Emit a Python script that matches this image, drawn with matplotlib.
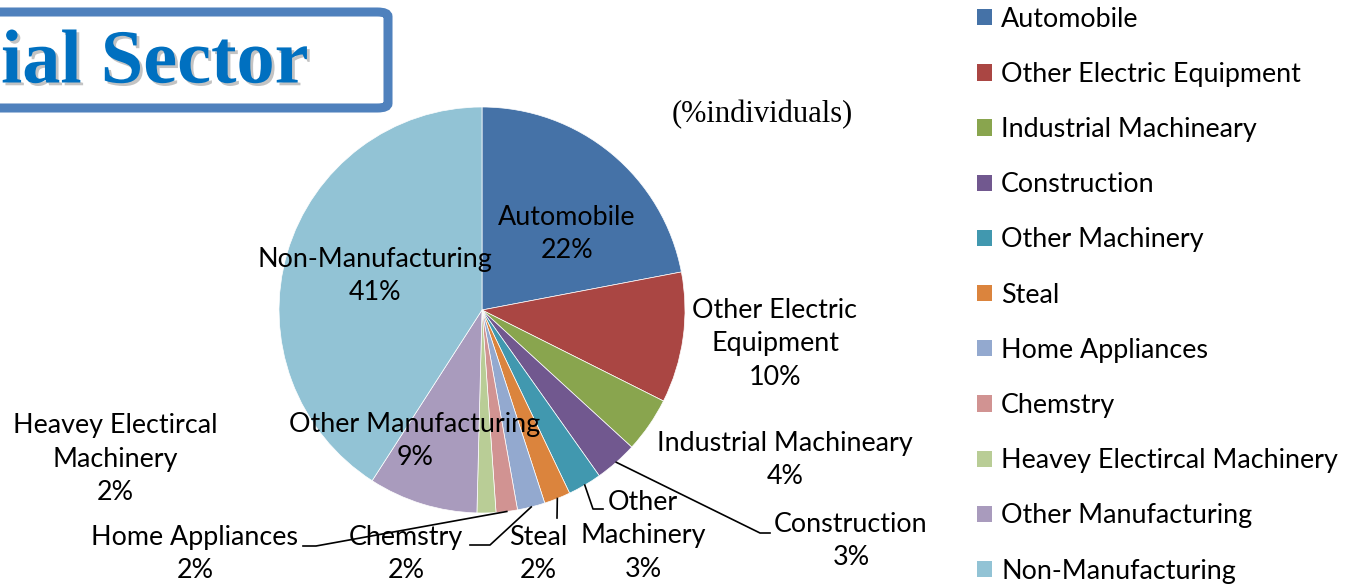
import matplotlib
matplotlib.use("Agg")
import matplotlib.pyplot as plt
import numpy as np
from matplotlib.lines import Line2D
from matplotlib.patches import FancyBboxPatch, Patch
import matplotlib.patheffects as pe

# data (share of individuals, %)
categories = ["Automobile", "Other Electric Equipment", "Industrial Machineary",
              "Construction", "Other Machinery", "Steal", "Home Appliances",
              "Chemstry", "Heavey Electircal Machinery", "Other Manufacturing",
              "Non-Manufacturing"]
values = [22.0, 10.4, 4.4, 3.4, 2.7, 2.1, 2.2, 1.7, 1.5, 8.7, 40.9]
colors = ["#4572A7", "#AA4643", "#89A54E", "#71588F", "#4198AF", "#DB843D",
          "#93A9CF", "#D19392", "#B9CD96", "#A99BBD", "#92C3D5"]

W, H = 1350, 586
plt.rcParams['font.family'] = ['Lato', 'DejaVu Sans']
FS = 19.4

fig = plt.figure(figsize=(W / 100, H / 100), dpi=100)


def px(x, y):
    # image pixel (top-left origin) -> figure fraction
    return x / W, 1 - y / H


# pie axes: centre (482, 310), radius 203 px
cx, cy, r = 482, 310, 203
ax = fig.add_axes([(cx - r) / W, (H - cy - r) / H, 2 * r / W, 2 * r / H])
wedges, _ = ax.pie(values, colors=colors, startangle=90, counterclock=False,
                   radius=1, wedgeprops=dict(linewidth=0.5, edgecolor='white'))
ax.set_xlim(-1, 1)
ax.set_ylim(-1, 1)
ax.set_aspect('equal')
ax.axis('off')

# label layout: (x, y centre in px, wrapped name, leader via points or None)
label_layout = [
    (567, 234, "Automobile", None),
    (775, 344, "Other Electric\nEquipment", None),
    (785, 460, "Industrial Machineary", None),
    (851, 541, "Construction", [(760, 533), (770, 533)]),
    (643, 536, "Other\nMachinery", [(593, 509), (603, 509)]),
    (538, 554, "Steal", [(557, 518)]),
    (406, 554, "Chemstry", [(490, 545), (470, 545)]),
    (195, 554, "Home Appliances", [(316, 546), (303, 546)]),
    (115, 459, "Heavey Electircal\nMachinery", None),
    (415, 441, "Other Manufacturing", None),
    (375, 276, "Non-Manufacturing", None),
]

total = sum(values)
to_fig = fig.transFigure.inverted()
for w, v, (lx, ly, name, via) in zip(wedges, values, label_layout):
    pct = f"{round(v / total * 100)}%"
    fig.text(*px(lx, ly), f"{name}\n{pct}", ha='center', va='center',
             fontsize=FS, linespacing=1.42, color='black')
    if via:
        mid = np.deg2rad((w.theta1 + w.theta2) / 2)
        ex, ey = to_fig.transform(ax.transData.transform((np.cos(mid), np.sin(mid))))
        xs = [ex] + [px(*p)[0] for p in via]
        ys = [ey] + [px(*p)[1] for p in via]
        fig.add_artist(Line2D(xs, ys, color='black', lw=1.2,
                              transform=fig.transFigure))

# unit note
fig.text(*px(762, 115), "(%individuals)", ha='center', va='center',
         fontsize=22, family='Liberation Serif')

# legend
handles = [Patch(facecolor=c, edgecolor='none') for c in colors]
fig.legend(handles, categories, loc='upper left', bbox_to_anchor=px(966, -4),
           frameon=False, fontsize=FS, handlelength=0.55, handleheight=0.55,
           handletextpad=0.35, labelspacing=1.12, borderaxespad=0)

# title box
x0, y0 = px(-20, 108)
x1, y1 = px(388, 12)
box = FancyBboxPatch((x0, y0), x1 - x0, y1 - y0, transform=fig.transFigure,
                     boxstyle="round,pad=0,rounding_size=0.008",
                     facecolor='white', edgecolor='#4F81BD', lw=6.5)
fig.add_artist(box)
fig.text(*px(1, 64), "ial Sector", ha='left', va='center', fontsize=55,
         fontweight='bold', family='Liberation Serif', color='#0070C0',
         path_effects=[pe.withSimplePatchShadow(offset=(2, -2), shadow_rgbFace='#888888', alpha=0.5)])

fig.savefig("out.png", dpi=100)
